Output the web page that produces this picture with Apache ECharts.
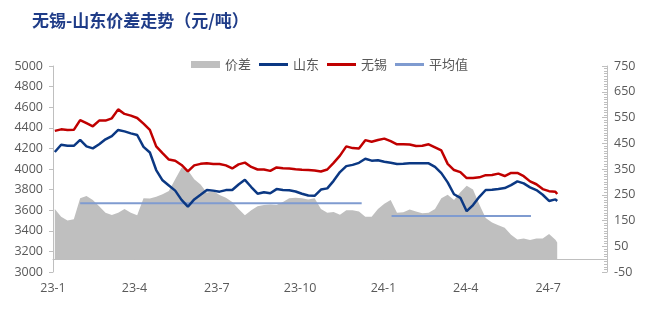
<!DOCTYPE html>
<html>
<head>
<meta charset="utf-8">
<script src="https://cdn.jsdelivr.net/npm/echarts@6/dist/echarts.min.js"></script>
<style>
html,body{margin:0;padding:0;background:#fff;}
#main{width:660px;height:311px;}
</style>
</head>
<body>
<div id="main"></div>
<script>
// ---- data ----
const titleText = '无锡-山东价差走势（元/吨）';
const legendNames = ['价差', '山东', '无锡', '平均值'];
const dates = [
 '2023-01-03','2023-01-10','2023-01-17','2023-01-24','2023-01-31','2023-02-07','2023-02-14','2023-02-21','2023-02-28',
 '2023-03-07','2023-03-14','2023-03-21','2023-03-28','2023-04-04','2023-04-11','2023-04-18','2023-04-25',
 '2023-05-02','2023-05-09','2023-05-16','2023-05-23','2023-05-30','2023-06-06','2023-06-13','2023-06-20','2023-06-27',
 '2023-07-04','2023-07-11','2023-07-18','2023-07-25','2023-08-01','2023-08-08','2023-08-15','2023-08-22','2023-08-29',
 '2023-09-05','2023-09-12','2023-09-19','2023-09-26','2023-10-03','2023-10-10','2023-10-17','2023-10-24','2023-10-31',
 '2023-11-07','2023-11-14','2023-11-21','2023-11-28','2023-12-05','2023-12-12','2023-12-19','2023-12-26',
 '2024-01-02','2024-01-09','2024-01-16','2024-01-23','2024-01-30','2024-02-06','2024-02-13','2024-02-20','2024-02-27',
 '2024-03-05','2024-03-12','2024-03-19','2024-03-26','2024-04-02','2024-04-09','2024-04-16','2024-04-23','2024-04-30',
 '2024-05-07','2024-05-14','2024-05-21','2024-05-28','2024-06-04','2024-06-11','2024-06-18','2024-06-25',
 '2024-07-02','2024-07-09','2024-07-11'
];
const wuxi = [
 4370,4385,4378,4380,4475,4445,4415,4470,4470,
 4492,4579,4535,4518,4495,4440,4380,4220,
 4155,4092,4080,4039,3976,4035,4050,4055,4049,
 4049,4035,4005,4045,4062,4020,3995,3995,3982,
 4015,4007,4004,3997,3993,3990,3986,3976,3995,
 4060,4130,4220,4203,4200,4280,4265,4282,
 4295,4270,4240,4240,4238,4223,4225,4240,4210,
 4180,4050,3990,3970,3912,3912,3919,3940,3942,
 3955,3932,3962,3962,3930,3880,3852,3805,
 3785,3780,3757
];
const shandong = [
 4165,4235,4225,4225,4282,4220,4200,4240,4288,
 4320,4379,4365,4346,4330,4215,4160,3990,
 3890,3840,3790,3700,3634,3705,3750,3796,3790,
 3780,3795,3796,3850,3895,3825,3760,3775,3764,
 3805,3797,3793,3782,3760,3742,3740,3800,3812,
 3885,3970,4028,4040,4060,4100,4081,4085,
 4071,4060,4049,4050,4055,4055,4055,4055,4020,
 3960,3870,3755,3720,3590,3650,3730,3796,3798,
 3806,3815,3843,3880,3860,3822,3795,3750,
 3690,3705,3690
];
const spread = [
 195,165,150,155,236,245,230,205,180,
 171,180,195,180,170,236,235,242,
 252,265,310,355,345,310,290,258,265,
 249,238,222,195,170,190,205,210,212,
 210,222,236,238,236,232,236,195,180,
 183,172,190,190,185,165,165,195,
 215,230,180,182,193,185,178,180,195,
 236,250,230,260,285,270,212,160,142,
 132,122,95,76,80,74,80,80,
 98,75,65
];
const avg1Dates = ['2023-01-31', '2023-12-08'];
const avg1Value = 217;
const avg2Dates = ['2024-01-10', '2024-06-12'];
const avg2Value = 167;
const axisStart = '2023-01-01';
const axisEnd = '2024-09-04';
const quarterMonths = [1, 4, 7, 10];

// ---- build daily category axis ----
function pad(n){ return (n < 10 ? '0' : '') + n; }
function fmt(t){ const d = new Date(t); return d.getUTCFullYear() + '-' + pad(d.getUTCMonth()+1) + '-' + pad(d.getUTCDate()); }
const days = [];
(function(){
  const s = Date.parse(axisStart + 'T00:00:00Z'), e = Date.parse(axisEnd + 'T00:00:00Z');
  for (let t = s; t <= e; t += 86400000) days.push(fmt(t));
})();
function isQuarterStart(v){
  const p = v.split('-');
  return p[2] === '01' && quarterMonths.indexOf(+p[1]) >= 0;
}
const pairs = (vals) => dates.map((d, i) => [d, vals[i]]);

const axisGray = '#bfbfbf';
const labelStyle = { color: '#595959', fontSize: 12.5, fontFamily: 'Open Sans' };
const lineIcon = 'path://M0,0H29V3H0Z';

const chart = echarts.init(document.getElementById('main'), null, { renderer: 'canvas' });
chart.setOption({
  animation: false,
  backgroundColor: '#fff',
  title: {
    text: titleText, left: 27, top: 7,
    textStyle: { color: '#1f3c88', fontSize: 17, fontWeight: 'bold', fontFamily: 'Noto Sans CJK SC' }
  },
  legend: {
    left: 186, top: 53, itemWidth: 29, itemHeight: 7, itemGap: 8,
    textStyle: { color: '#595959', fontSize: 13, fontFamily: 'Noto Sans CJK SC' },
    data: [
      { name: legendNames[0], icon: 'rect' },
      { name: legendNames[1], icon: lineIcon },
      { name: legendNames[2], icon: lineIcon },
      { name: legendNames[3], icon: lineIcon }
    ]
  },
  grid: { left: 53, right: 53, top: 66, bottom: 39, containLabel: false },
  xAxis: {
    type: 'category', data: days, boundaryGap: false,
    axisLine: { lineStyle: { color: axisGray } },
    axisTick: { inside: true, length: 4, interval: (i, v) => isQuarterStart(v), lineStyle: { color: axisGray } },
    axisLabel: Object.assign({
      margin: 10,
      interval: (i, v) => isQuarterStart(v),
      formatter: (v) => { const p = v.split('-'); return p[0].slice(2) + '-' + (+p[1]); }
    }, labelStyle),
    splitLine: { show: false }
  },
  yAxis: [
    {
      type: 'value', min: 3000, max: 5000, interval: 200, position: 'left',
      axisLine: { show: true, lineStyle: { color: axisGray } },
      axisTick: { show: true, length: 4, lineStyle: { color: axisGray } },
      axisLabel: Object.assign({ margin: 10, formatter: (v) => String(v) }, labelStyle),
      splitLine: { show: false }
    },
    {
      type: 'value', min: -50, max: 750, interval: 100, position: 'right',
      axisLine: { show: true, lineStyle: { color: axisGray } },
      axisTick: { show: true, inside: true, length: 5, lineStyle: { color: axisGray } },
      minorTick: { show: true, splitNumber: 10, length: 3, lineStyle: { color: axisGray } },
      axisLabel: Object.assign({ margin: 7, formatter: (v) => String(v) }, labelStyle),
      splitLine: { show: false }
    }
  ],
  series: [
    {
      name: legendNames[0], type: 'line', yAxisIndex: 1, data: pairs(spread),
      symbol: 'none', lineStyle: { width: 0 }, itemStyle: { color: '#bfbfbf' },
      areaStyle: { color: '#bfbfbf', opacity: 1 }, z: 1
    },
    {
      name: legendNames[3], type: 'line', yAxisIndex: 1,
      data: avg1Dates.map(d => [d, avg1Value]),
      symbol: 'none', lineStyle: { width: 2, color: '#7f9bd0' }, itemStyle: { color: '#7f9bd0' }, z: 2
    },
    {
      name: legendNames[3], type: 'line', yAxisIndex: 1,
      data: avg2Dates.map(d => [d, avg2Value]),
      symbol: 'none', lineStyle: { width: 2, color: '#7f9bd0' }, itemStyle: { color: '#7f9bd0' }, z: 2
    },
    {
      name: legendNames[1], type: 'line', yAxisIndex: 0, data: pairs(shandong),
      symbol: 'none', lineStyle: { width: 2.5, color: '#0b3883' }, itemStyle: { color: '#0b3883' }, z: 3
    },
    {
      name: legendNames[2], type: 'line', yAxisIndex: 0, data: pairs(wuxi),
      symbol: 'none', lineStyle: { width: 2.5, color: '#c00000' }, itemStyle: { color: '#c00000' }, z: 3
    }
  ]
});
</script>
</body>
</html>
